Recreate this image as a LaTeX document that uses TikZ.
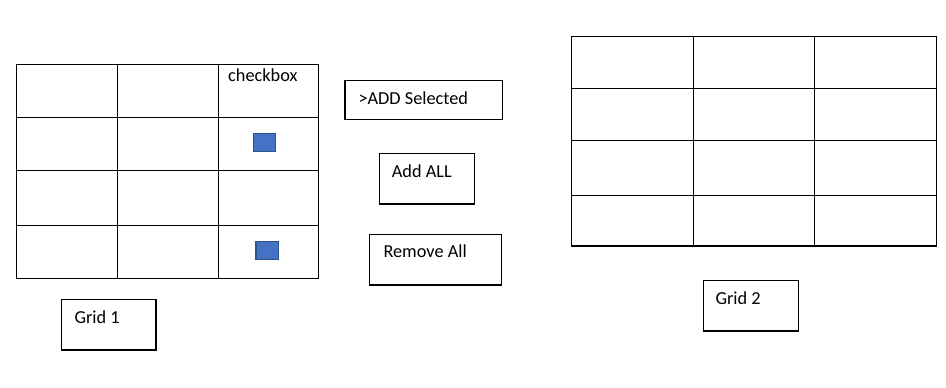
\documentclass[tikz,border=0pt]{standalone}
\usepackage{fontspec}
\setmainfont{Carlito}
\definecolor{cbfill}{HTML}{4472C4}
\definecolor{cbdraw}{HTML}{2F528F}
\begin{document}
\begin{tikzpicture}[x=1pt,y=-1pt,
  gridline/.style={line width=1.3pt, black},
  boxnode/.style={draw=black, line width=1.2pt, rectangle, inner sep=0pt, outer sep=0pt, anchor=north west},
  txt/.style={anchor=base west, inner sep=0pt, font=\fontsize{18.3}{20}\selectfont},
  cbox/.style={draw=cbdraw, fill=cbfill, line width=1.2pt, rectangle, inner sep=0pt, outer sep=0pt, anchor=north west}]
\useasboundingbox (0,0) rectangle (946,388);
% Grid 1
\draw[gridline] (16.3,64.3) rectangle (318.3,278.3);
\foreach \x in {117.3,218.3} \draw[gridline] (\x,64.3) -- (\x,278.3);
\foreach \y in {117.3,170.3,225.3} \draw[gridline] (16.3,\y) -- (318.3,\y);
\node[txt] (cbtext) at (228,81.7) {checkbox};
\node[cbox, minimum width=22.4pt, minimum height=18pt] (cb1) at (253.3,133.3) {};
\node[cbox, minimum width=22.7pt, minimum height=18pt] (cb2) at (256,241.3) {};
% Buttons
\node[boxnode, minimum width=157.3pt, minimum height=38.6pt] (addsel) at (345,80.7) {};
\node[txt] (addseltext) at (358.3,104.3) {>ADD Selected};
\node[boxnode, minimum width=95pt, minimum height=50.7pt] (addall) at (379.3,153.3) {};
\node[txt] (addalltext) at (391.7,177.3) {Add ALL};
\node[boxnode, minimum width=132.4pt, minimum height=50.7pt] (remall) at (369.3,234.3) {};
\node[txt] (remalltext) at (383.3,257.7) {Remove All};
% Grid 1 label
\node[boxnode, minimum width=94.3pt, minimum height=50.7pt] (g1box) at (61.7,299.3) {};
\node[txt] (g1text) at (74.3,323.3) {Grid 1};
% Grid 2
\draw[gridline] (571.3,36.3) rectangle (936.7,246);
\foreach \x in {693.3,814.3} \draw[gridline] (\x,36.3) -- (\x,246);
\foreach \y in {88.3,140.3,195.3} \draw[gridline] (571.3,\y) -- (936.7,\y);
\node[boxnode, minimum width=95.4pt, minimum height=50.7pt] (g2box) at (703.3,280.3) {};
\node[txt] (g2text) at (715.3,304.3) {Grid 2};
\end{tikzpicture}
\end{document}
